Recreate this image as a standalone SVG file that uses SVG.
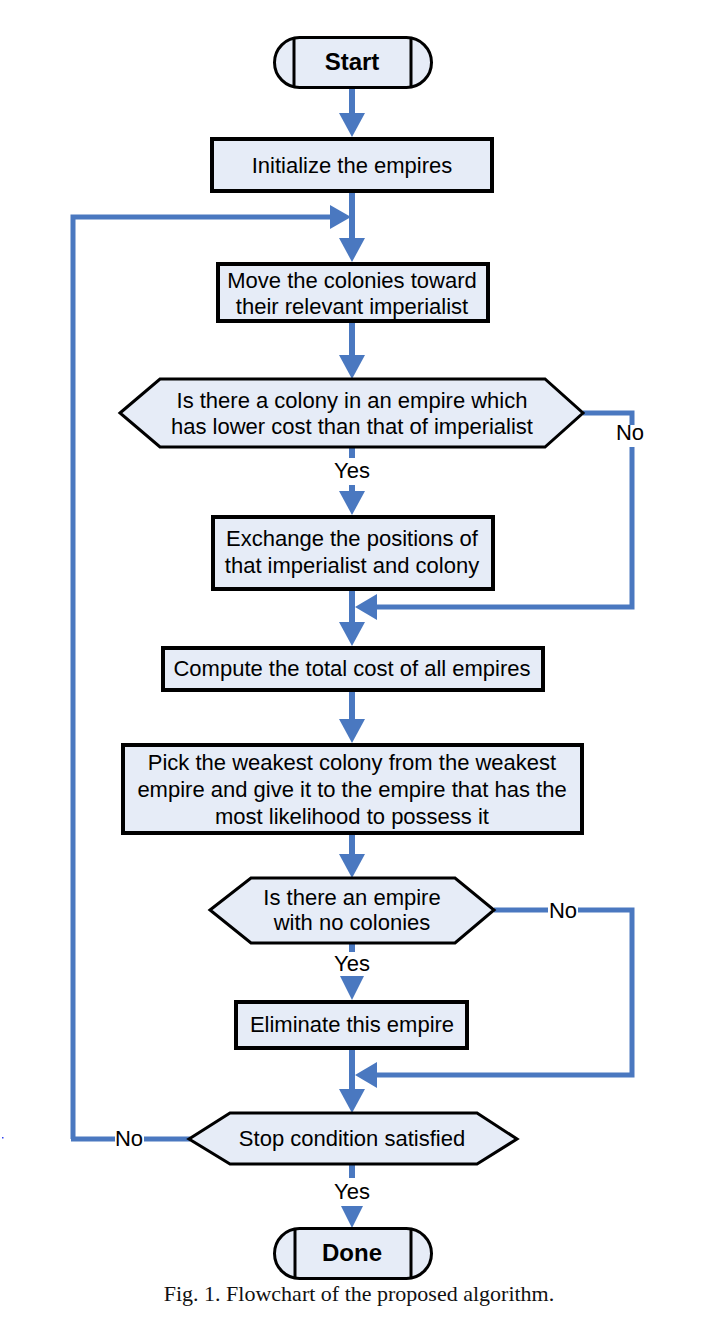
<svg xmlns="http://www.w3.org/2000/svg" width="703" height="1323" viewBox="0 0 703 1323">
<style>
.box{fill:#e6ecf7;stroke:#000;stroke-width:4}
.hex{fill:#e6ecf7;stroke:#000;stroke-width:3;stroke-linejoin:miter}
.term{fill:#e6ecf7;stroke:#000;stroke-width:3}
.in{stroke:#000;stroke-width:3}
.t{font-family:"Liberation Sans",Arial,sans-serif;font-size:22px;fill:#000;text-anchor:middle}
.b{font-family:"Liberation Sans",Arial,sans-serif;font-size:24px;font-weight:bold;fill:#000;text-anchor:middle}
.main{stroke:#4a78c0;stroke-width:6;fill:none}
.side{stroke:#4a78c0;stroke-width:5;fill:none;stroke-linejoin:miter}
.head{fill:#4a78c0}
.cap{font-family:"Liberation Serif","Times New Roman",serif;font-size:22px;fill:#111;text-anchor:middle}
</style>
<rect x="0" y="0" width="703" height="1323" fill="#fff"/>
<g id="connectors">
<line class="main" x1="352" y1="88" x2="352" y2="114"/>
<polygon class="head" points="339,113 365,113 352,137"/>
<line class="main" x1="352" y1="193" x2="352" y2="239"/>
<polygon class="head" points="339,238 365,238 352,262"/>
<polyline class="side" points="73,1139 73,217 332,217"/>
<polygon class="head" points="330,205 330,229 351,217"/>
<line class="main" x1="352" y1="323" x2="352" y2="356"/>
<polygon class="head" points="339,355 365,355 352,379"/>
<line class="main" x1="352" y1="447" x2="352" y2="458"/>
<line class="main" x1="352" y1="485" x2="352" y2="493"/>
<polygon class="head" points="339,491 365,491 352,515"/>
<polyline class="side" points="583,413 632,413 632,425"/>
<polyline class="side" points="632,447 632,607 376,607"/>
<polygon class="head" points="377,594 377,620 355,607"/>
<line class="main" x1="352" y1="590" x2="352" y2="623"/>
<polygon class="head" points="339,622 365,622 352,646"/>
<line class="main" x1="352" y1="690" x2="352" y2="720"/>
<polygon class="head" points="339,719 365,719 352,743"/>
<line class="main" x1="352" y1="835" x2="352" y2="855"/>
<polygon class="head" points="339,854 365,854 352,878"/>
<line class="main" x1="352" y1="943" x2="352" y2="952"/>
<polygon class="head" points="340,976 364,976 352,1000"/>
<line class="side" x1="494" y1="910" x2="548" y2="910"/>
<polyline class="side" points="578,910 632,910 632,1075 376,1075"/>
<polygon class="head" points="377,1062 377,1088 355,1075"/>
<line class="main" x1="352" y1="1050" x2="352" y2="1090"/>
<polygon class="head" points="339,1089 365,1089 352,1113"/>
<line class="side" x1="190" y1="1139" x2="144" y2="1139"/>
<line class="side" x1="115" y1="1139" x2="71" y2="1139"/>
<line class="main" x1="352" y1="1164" x2="352" y2="1178"/>
<polygon class="head" points="341,1206 363,1206 352,1228"/>
</g>
<g id="start">
<rect class="term" x="274.5" y="37.5" width="157" height="50" rx="25" ry="25"/>
<line class="in" x1="294" y1="37.5" x2="294" y2="87.5"/>
<line class="in" x1="411" y1="37.5" x2="411" y2="87.5"/>
<text class="b" x="352" y="70">Start</text>
</g>
<g id="init">
<rect class="box" x="212" y="139" width="280" height="52"/>
<text class="t" x="352" y="173">Initialize the empires</text>
</g>
<g id="move">
<rect class="box" x="218" y="264" width="270" height="57"/>
<text class="t" x="352" y="288">Move the colonies toward</text>
<text class="t" x="352" y="314">their relevant imperialist</text>
</g>
<g id="decision1">
<polygon class="hex" points="120,413 160,379 545,379 583,413 545,447 160,447"/>
<text class="t" x="352" y="408">Is there a colony in an empire which</text>
<text class="t" x="352" y="434">has lower cost than that of imperialist</text>
<text class="t" x="352" y="478">Yes</text>
<text class="t" x="630" y="440">No</text>
</g>
<g id="exchange">
<rect class="box" x="213" y="517" width="280" height="72"/>
<text class="t" x="352" y="546">Exchange the positions of</text>
<text class="t" x="352" y="573">that imperialist and colony</text>
</g>
<g id="compute">
<rect class="box" x="163" y="648" width="380" height="42"/>
<text class="t" x="352" y="676">Compute the total cost of all empires</text>
</g>
<g id="pick">
<rect class="box" x="123" y="745" width="459" height="88"/>
<text class="t" x="352" y="770">Pick the weakest colony from the weakest</text>
<text class="t" x="352" y="797">empire and give it to the empire that has the</text>
<text class="t" x="352" y="824">most likelihood to possess it</text>
</g>
<g id="decision2">
<polygon class="hex" points="210,910 251,878 455,878 494,910 455,943 251,943"/>
<text class="t" x="352" y="905">Is there an empire</text>
<text class="t" x="352" y="930">with no colonies</text>
<text class="t" x="352" y="971">Yes</text>
<text class="t" x="563" y="918">No</text>
</g>
<g id="eliminate">
<rect class="box" x="236" y="1002" width="231" height="46"/>
<text class="t" x="352" y="1032">Eliminate this empire</text>
</g>
<g id="decision3">
<polygon class="hex" points="189,1139 230,1113 477,1113 517,1139 477,1164 230,1164"/>
<text class="t" x="352" y="1146">Stop condition satisfied</text>
<text class="t" x="129" y="1146">No</text>
<text class="t" x="352" y="1199">Yes</text>
</g>
<g id="done">
<rect class="term" x="274.5" y="1228.5" width="157" height="50" rx="25" ry="25"/>
<line class="in" x1="295" y1="1228.5" x2="295" y2="1278.5"/>
<line class="in" x1="411" y1="1228.5" x2="411" y2="1278.5"/>
<text class="b" x="352" y="1261">Done</text>
</g>
<rect x="2" y="1137" width="1.5" height="1.5" fill="#3344ee"/>
<text class="cap" x="359" y="1301">Fig. 1. Flowchart of the proposed algorithm.</text>
</svg>
